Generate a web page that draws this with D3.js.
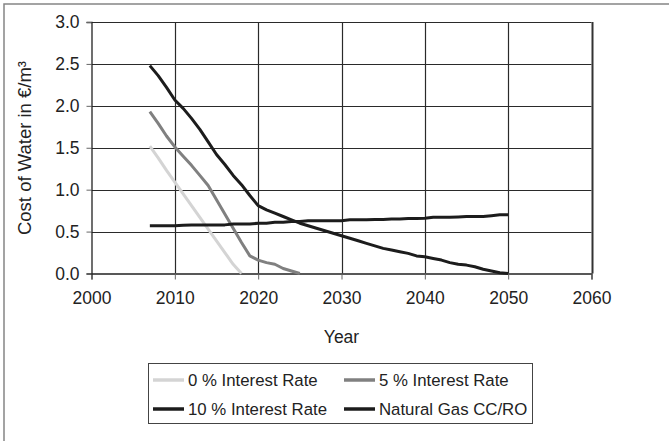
<!DOCTYPE html>
<html>
<head>
<meta charset="utf-8">
<script src="https://cdn.jsdelivr.net/npm/d3@7/dist/d3.min.js"></script>
<style>
  html, body { margin: 0; padding: 0; background: #fff; }
  svg { display: block; font-family: "Liberation Sans", Arial, sans-serif; }
</style>
</head>
<body>
<svg id="chart" width="669" height="441"></svg>
<script>
const years = d3.range(2007, 2051);
const rate0 = [1.52, 1.38, 1.23, 1.09, 0.95, 0.81, 0.67, 0.53, 0.39, 0.25, 0.11, 0.00];
const rate5 = [1.93, 1.79, 1.64, 1.51, 1.40, 1.29, 1.17, 1.05, 0.88, 0.71, 0.54, 0.37, 0.21, 0.16, 0.13, 0.11, 0.06, 0.03, 0.00];
const rate10 = [2.48, 2.36, 2.22, 2.07, 1.97, 1.85, 1.72, 1.57, 1.42, 1.30, 1.17, 1.06, 0.93, 0.81,
  0.76, 0.72, 0.68, 0.64, 0.60, 0.57, 0.54, 0.51, 0.48, 0.45,
  0.42, 0.39, 0.36, 0.33, 0.30, 0.28, 0.26, 0.24, 0.21, 0.20,
  0.18, 0.16, 0.13, 0.11, 0.10, 0.08, 0.05, 0.03, 0.01, 0.00];
const naturalGas = [0.57, 0.57, 0.57, 0.57, 0.575, 0.58, 0.58, 0.58, 0.58, 0.58, 0.59, 0.59, 0.59, 0.60,
  0.60, 0.61, 0.61, 0.62, 0.62, 0.63, 0.63, 0.63, 0.63, 0.63,
  0.64, 0.64, 0.64, 0.645, 0.645, 0.65, 0.65, 0.655, 0.655, 0.66,
  0.67, 0.67, 0.67, 0.675, 0.68, 0.68, 0.68, 0.69, 0.70, 0.70];
const seriesNames = ["0 % Interest Rate", "5 % Interest Rate", "10 % Interest Rate", "Natural Gas CC/RO"];
const seriesColors = ["#d4d4d4", "#808080", "#1c1c1c", "#1c1c1c"];
const xTicks = [2000, 2010, 2020, 2030, 2040, 2050, 2060];
const yTicks = [0, 0.5, 1.0, 1.5, 2.0, 2.5, 3.0];

const seriesValues = [rate0, rate5, rate10, naturalGas];

const svg = d3.select("#chart");
const x = d3.scaleLinear().domain([2000, 2060]).range([91.5, 591.5]);
const y = d3.scaleLinear().domain([0, 3]).range([273.5, 22]);

// outer frame
svg.append("rect").attr("x", 4).attr("y", 4).attr("width", 700).attr("height", 500)
  .attr("fill", "none").attr("stroke", "#858585").attr("stroke-width", 1.5);

// grid
const g = svg.append("g");
g.selectAll("line.hg").data(yTicks.slice(1)).join("line")
  .attr("x1", x(2000)).attr("x2", x(2060))
  .attr("y1", d => Math.round(y(d)) + 0.5).attr("y2", d => Math.round(y(d)) + 0.5)
  .attr("stroke", "#2a2a2a").attr("stroke-width", 1.2);
g.selectAll("line.vg").data(xTicks.slice(1)).join("line")
  .attr("y1", y(3)).attr("y2", y(0))
  .attr("x1", d => Math.round(x(d)) + 0.5).attr("x2", d => Math.round(x(d)) + 0.5)
  .attr("stroke", d => d === 2060 ? "#333" : "#2a2a2a").attr("stroke-width", d => d === 2060 ? 2 : 1.2);

// axes
const xAxis = d3.axisBottom(x).tickValues(xTicks).tickFormat(d3.format("d")).tickSize(6).tickPadding(12);
const yAxis = d3.axisLeft(y).tickValues(yTicks).tickFormat(d3.format(".1f")).tickSize(5).tickPadding(7);
const gx = svg.append("g").attr("transform", `translate(0,${y(0)})`).call(xAxis);
const gy = svg.append("g").attr("transform", `translate(${x(2000)},0)`).call(yAxis);
[gx, gy].forEach(a => {
  a.select(".domain").attr("stroke", "#222").attr("stroke-width", 1.3);
  a.selectAll(".tick line").attr("stroke", "#666").attr("stroke-width", 1);
  a.selectAll(".tick text").attr("fill", "#222").attr("font-size", "17.5px")
    .attr("font-family", "Liberation Sans, Arial, sans-serif");
});

// lines
const line = d3.line().x((d, i) => x(years[i])).y(d => y(d));
seriesValues.forEach((vals, k) => {
  svg.append("path").datum(vals)
    .attr("fill", "none").attr("stroke", seriesColors[k]).attr("stroke-width", 3)
    .attr("stroke-linejoin", "round").attr("d", line);
});

// axis titles
svg.append("text").attr("x", x(2030)).attr("y", 343).attr("text-anchor", "middle")
  .attr("font-size", "17.5px").attr("fill", "#222").text("Year");
svg.append("text").attr("transform", "translate(31,148) rotate(-90)").attr("text-anchor", "middle")
  .attr("font-size", "18.5px").attr("fill", "#222").text("Cost of Water in €/m³");

// legend
const lg = svg.append("g");
lg.append("rect").attr("x", 148.5).attr("y", 363.5).attr("width", 384).attr("height", 60)
  .attr("fill", "#fff").attr("stroke", "#444").attr("stroke-width", 1);
const legPos = [[153, 380], [344, 380], [153, 409], [344, 409]];
seriesNames.forEach((name, k) => {
  const [lx, ly] = legPos[k];
  lg.append("line").attr("x1", lx).attr("x2", lx + 31).attr("y1", ly).attr("y2", ly)
    .attr("stroke", seriesColors[k]).attr("stroke-width", 3.5);
  lg.append("text").attr("x", lx + 35).attr("y", ly + 6).attr("font-size", "16.8px")
    .attr("fill", "#222").text(name);
});
</script>
</body>
</html>
